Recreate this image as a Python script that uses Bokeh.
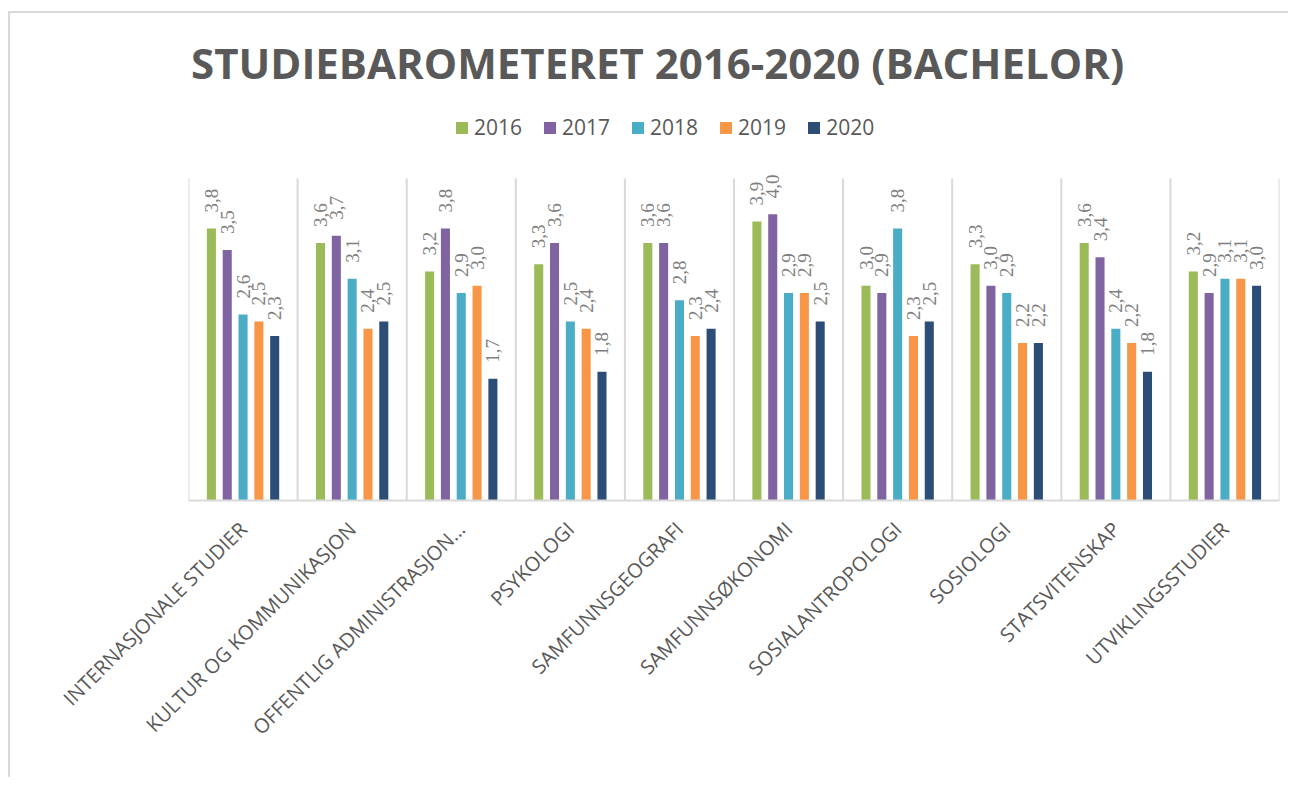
from math import pi
from bokeh.plotting import figure
from bokeh.models import ColumnDataSource, LabelSet, Label, Range1d, FactorRange
from bokeh.transform import dodge
from bokeh.embed import file_html
from bokeh.resources import INLINE

# ---- data ----
categories = ["INTERNASJONALE STUDIER", "KULTUR OG KOMMUNIKASJON", "OFFENTLIG ADMINISTRASJON…",
              "PSYKOLOGI", "SAMFUNNSGEOGRAFI", "SAMFUNNSØKONOMI", "SOSIALANTROPOLOGI",
              "SOSIOLOGI", "STATSVITENSKAP", "UTVIKLINGSSTUDIER"]
years = ["2016", "2017", "2018", "2019", "2020"]
v2016 = [3.8, 3.6, 3.2, 3.3, 3.6, 3.9, 3.0, 3.3, 3.6, 3.2]
v2017 = [3.5, 3.7, 3.8, 3.6, 3.6, 4.0, 2.9, 3.0, 3.4, 2.9]
v2018 = [2.6, 3.1, 2.9, 2.5, 2.8, 2.9, 3.8, 2.9, 2.4, 3.1]
v2019 = [2.5, 2.4, 3.0, 2.4, 2.3, 2.9, 2.3, 2.2, 2.2, 3.1]
v2020 = [2.3, 2.5, 1.7, 1.8, 2.4, 2.5, 2.5, 2.2, 1.8, 3.0]
series = [v2016, v2017, v2018, v2019, v2020]
title_text = "STUDIEBAROMETERET 2016-2020 (BACHELOR)"

colors = ["#9BBB59", "#8064A2", "#4BACC6", "#F79646", "#2C4D75"]
offsets = [-0.29, -0.145, 0.0, 0.145, 0.29]

AXIS_TOP = 4.5          # value at the top of the separator lines
Y_END = AXIS_TOP * 500 / 322   # frame extends to the top of the canvas

p = figure(width=1288, height=777, x_range=FactorRange(*categories), y_range=Range1d(0, Y_END),
           output_backend="svg", toolbar_location=None, y_axis_location=None,
           min_border_left=188, min_border_right=9, min_border_top=0, min_border_bottom=277)
p.outline_line_color = None
p.xgrid.grid_line_color = None
p.ygrid.grid_line_color = None
p.background_fill_alpha = 0
p.border_fill_alpha = 0
# faint chart-area frame (top and left edges) drawn behind the transparent canvas
p.styles = {
    "background-color": "white",
    "background-image": "linear-gradient(#d9d9d9, #d9d9d9), linear-gradient(#d9d9d9, #d9d9d9)",
    "background-size": "1290px 2px, 2px 800px",
    "background-position": "8px 11px, 8px 11px",
    "background-repeat": "no-repeat",
}

FONT = "Open Sans"

# category separators
seps = list(range(len(categories) + 1))
p.segment(x0=seps, y0=[0] * len(seps), x1=seps, y1=[AXIS_TOP] * len(seps),
          line_color="#d9d9d9", line_width=2)

for yr, vals, col, off in zip(years, series, colors, offsets):
    src = ColumnDataSource(dict(cat=categories, val=vals,
                                lbl=[f"{v:.1f}".replace(".", ",") for v in vals]))
    p.vbar(x=dodge("cat", off, range=p.x_range), top="val", width=0.083, source=src,
           fill_color=col, line_color=None, legend_label=yr)
    p.add_layout(LabelSet(x=dodge("cat", off, range=p.x_range), y="val", text="lbl", source=src,
                          angle=pi / 2, text_align="left", text_baseline="middle",
                          y_offset=16, text_font=FONT, text_font_size="19px",
                          text_color="#7f7f7f"))

ax = p.xaxis[0]
ax.axis_line_color = "#d9d9d9"
ax.axis_line_width = 2
ax.major_tick_line_color = None
ax.minor_tick_line_color = None
ax.major_label_orientation = pi / 4
ax.major_label_text_font = FONT
ax.major_label_text_font_size = "20px"
ax.major_label_text_color = "#595959"
ax.major_label_standoff = 19

p.add_layout(Label(x=4.30, y=6.12, text=title_text, text_align="center", text_baseline="middle",
                   text_font=FONT, text_font_style="bold", text_font_size="42px",
                   text_color="#595959"))

lg = p.legend[0]
lg.orientation = "horizontal"
lg.location = (266, 359)
lg.glyph_width = 15
lg.glyph_height = 15
lg.label_standoff = 5
lg.spacing = 20
lg.padding = 0
lg.margin = 0
lg.border_line_color = None
lg.background_fill_alpha = 0
lg.label_text_font = FONT
lg.label_text_font_size = "21px"
lg.label_text_color = "#595959"

open("out.html", "w").write(file_html(p, INLINE))
